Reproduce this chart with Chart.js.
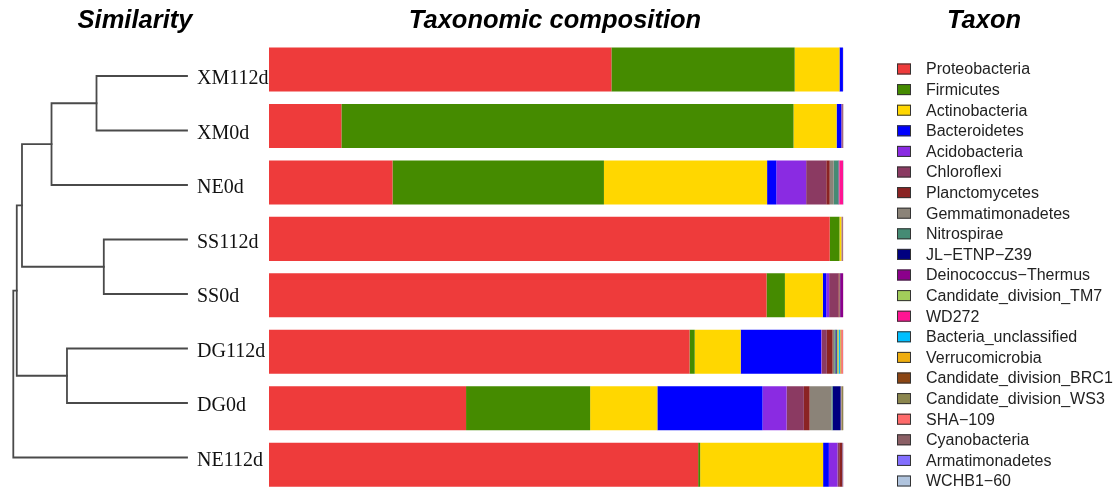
<!DOCTYPE html>
<html>
<head>
<meta charset="utf-8">
<script src="https://cdn.jsdelivr.net/npm/chart.js@4/dist/chart.umd.min.js"></script>
<style>
  html, body { margin: 0; padding: 0; background: #fff; overflow: hidden; }
  #wrap { position: relative; width: 1120px; height: 494px; }
</style>
</head>
<body>
<div id="wrap"><canvas id="c" width="1120" height="494"></canvas></div>
<script>
// Samples, in dendrogram leaf order (top to bottom)
const samples = ['XM112d', 'XM0d', 'NE0d', 'SS112d', 'SS0d', 'DG112d', 'DG0d', 'NE112d'];

// Relative abundance (%) of each phylum per sample
const taxa = [
  'Proteobacteria', 'Firmicutes', 'Actinobacteria', 'Bacteroidetes', 'Acidobacteria',
  'Chloroflexi', 'Planctomycetes', 'Gemmatimonadetes', 'Nitrospirae', 'JL\u2212ETNP\u2212Z39',
  'Deinococcus\u2212Thermus', 'Candidate_division_TM7', 'WD272', 'Bacteria_unclassified',
  'Verrucomicrobia', 'Candidate_division_BRC1', 'Candidate_division_WS3', 'SHA\u2212109',
  'Cyanobacteria', 'Armatimonadetes', 'WCHB1\u221260'
];
const taxonColors = [
  '#EE3B3B', '#458B00', '#FFD700', '#0000FF', '#8A2BE2',
  '#8B3A62', '#8B2323', '#8B8378', '#458B74', '#000080',
  '#8B008B', '#A2CD5A', '#FF1493', '#00BFFF',
  '#EEAD0E', '#8B4513', '#8B864E', '#FF6A6A',
  '#8B5F65', '#836FFF', '#B0C4DE'
];

const proteobacteria   = [59.6, 12.6, 21.5, 97.6, 86.6, 73.2, 34.3, 74.7];
const firmicutes       = [31.9, 78.7, 36.8, 1.7, 3.2, 0.9, 21.6, 0.35];
const actinobacteria   = [7.8, 7.5, 28.4, 0.35, 6.6, 8.0, 11.7, 21.4];
const bacteroidetes    = [0.6, 0.8, 1.6, 0.05, 0.6, 14.0, 18.3, 1.0];
const acidobacteria    = [0.02, 0.05, 5.2, 0.02, 0.5, 0.1, 4.2, 1.5];
const chloroflexi      = [0.02, 0.2, 3.5, 0.1, 1.6, 0.9, 3.0, 0.3];
const planctomycetes   = [0.01, 0.05, 0.6, 0.05, 0.2, 1.0, 1.0, 0.5];
const gemmatimonadetes = [0.01, 0.02, 0.7, 0.02, 0.05, 0.3, 3.8, 0.05];
const nitrospirae      = [0, 0, 0.8, 0, 0.05, 0.2, 0.2, 0.02];
const jlEtnpZ39        = [0, 0, 0.05, 0, 0.02, 0.2, 1.4, 0.02];
const deinococcus      = [0, 0, 0.05, 0.02, 0.5, 0.05, 0.02, 0.1];
const tm7              = [0, 0, 0.05, 0, 0.02, 0.3, 0.05, 0.02];
const wd272            = [0, 0, 0.7, 0, 0.02, 0.05, 0.02, 0.02];
const unclassified     = [0, 0, 0.05, 0, 0, 0.2, 0.02, 0];
const verrucomicrobia  = [0, 0, 0.02, 0.02, 0, 0.1, 0.02, 0];
const brc1             = [0, 0, 0, 0, 0, 0.05, 0.05, 0];
const ws3              = [0, 0, 0, 0, 0, 0.05, 0.3, 0];
const sha109           = [0, 0, 0, 0, 0, 0.3, 0.02, 0];
const cyanobacteria    = [0, 0.1, 0.02, 0.03, 0.03, 0.05, 0.02, 0.02];
const armatimonadetes  = [0, 0, 0.02, 0, 0.02, 0.02, 0.02, 0];
const wchb160          = [0, 0, 0, 0, 0, 0.02, 0, 0];

const abundance = [
  proteobacteria, firmicutes, actinobacteria, bacteroidetes, acidobacteria,
  chloroflexi, planctomycetes, gemmatimonadetes, nitrospirae, jlEtnpZ39,
  deinococcus, tm7, wd272, unclassified, verrucomicrobia, brc1, ws3, sha109,
  cyanobacteria, armatimonadetes, wchb160
];

// Hierarchical clustering: negative numbers are leaves (index into samples),
// positive numbers refer to earlier merges (1-based). Heights are dissimilarities.
const mergePairs   = [[-4, -5], [-1, -2], [-6, -7], [2, -3], [4, 1], [5, 3], [6, -8]];
const mergeHeights = [0.479, 0.521, 0.691, 0.780, 0.950, 0.980, 1.0];

// Dendrogram / legend layout
const dendro = { leafX: 187, rootX: 13.3, topY: 76, stepY: 54.5, labelX: 197 };
const legendBox = { x: 897, y: 69, step: 20.6, w: 14, h: 11, textX: 926 };

const overlay = {
  id: 'overlay',
  afterDraw(chart) {
    const ctx = chart.ctx;
    ctx.save();

    // panel titles
    ctx.fillStyle = '#000';
    ctx.font = 'italic bold 25.5px "Liberation Sans", Arial, sans-serif';
    ctx.textAlign = 'center';
    ctx.textBaseline = 'middle';
    ctx.fillText('Similarity', 135, 21);
    ctx.fillText('Taxonomic composition', 555, 21);
    ctx.fillText('Taxon', 984, 21);

    // dendrogram
    const hx = h => dendro.leafX - h * (dendro.leafX - dendro.rootX);
    const leafY = i => dendro.topY + i * dendro.stepY;
    const nodes = [];
    const pos = ref => ref < 0 ? { x: dendro.leafX, y: leafY(-ref - 1) } : nodes[ref - 1];
    ctx.strokeStyle = '#4a4a4a';
    ctx.lineWidth = 1.8;
    ctx.lineCap = 'square';
    mergePairs.forEach((pair, k) => {
      const a = pos(pair[0]), b = pos(pair[1]);
      const x = hx(mergeHeights[k]);
      ctx.beginPath();
      ctx.moveTo(a.x, a.y);
      ctx.lineTo(x, a.y);
      ctx.lineTo(x, b.y);
      ctx.lineTo(b.x, b.y);
      ctx.stroke();
      nodes.push({ x: x, y: (a.y + b.y) / 2 });
    });

    // sample labels
    ctx.fillStyle = '#111';
    ctx.font = '20px "Liberation Serif", "Times New Roman", serif';
    ctx.textAlign = 'left';
    ctx.textBaseline = 'middle';
    samples.forEach((s, i) => ctx.fillText(s, dendro.labelX, leafY(i) + 3));

    // legend
    ctx.font = '16px "Liberation Sans", Arial, sans-serif';
    chart.data.datasets.forEach((ds, i) => {
      const y = legendBox.y + i * legendBox.step;
      ctx.fillStyle = ds.backgroundColor;
      ctx.fillRect(legendBox.x, y - legendBox.h / 2, legendBox.w, legendBox.h);
      ctx.strokeStyle = '#333';
      ctx.lineWidth = 1;
      ctx.strokeRect(legendBox.x + 0.5, y - legendBox.h / 2 + 0.5, legendBox.w - 1, legendBox.h - 1);
      ctx.fillStyle = '#222';
      ctx.fillText(ds.label, legendBox.textX, y + 1);
    });
    ctx.restore();
  }
};

new Chart(document.getElementById('c'), {
  type: 'bar',
  data: {
    labels: samples,
    datasets: taxa.map((t, i) => ({
      label: t,
      data: abundance[i],
      backgroundColor: taxonColors[i],
      borderWidth: 0,
      categoryPercentage: 1,
      barPercentage: 0.78
    }))
  },
  options: {
    indexAxis: 'y',
    responsive: false,
    animation: false,
    events: [],
    layout: { padding: { left: 269, right: 276.5, top: 41.3, bottom: 1.1 } },
    scales: {
      x: { stacked: true, min: 0, max: 100, display: false },
      y: { stacked: true, display: false }
    },
    plugins: { legend: { display: false }, tooltip: { enabled: false }, title: { display: false } }
  },
  plugins: [overlay]
});
</script>
</body>
</html>
